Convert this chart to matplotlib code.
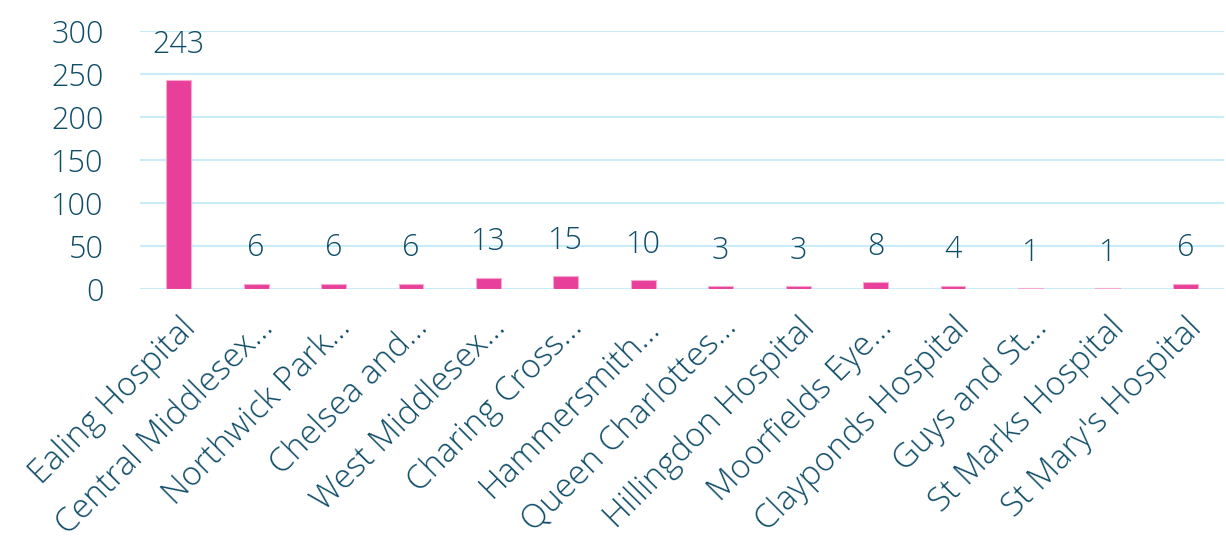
import matplotlib
matplotlib.use("Agg")
import matplotlib.pyplot as plt

categories = ["Ealing Hospital", "Central Middlesex…", "Northwick Park…", "Chelsea and…",
              "West Middlesex…", "Charing Cross…", "Hammersmith…", "Queen Charlottes…",
              "Hillingdon Hospital", "Moorfields Eye…", "Clayponds Hospital", "Guys and St…",
              "St Marks Hospital", "St Mary's Hospital"]
values = [243, 6, 6, 6, 13, 15, 10, 3, 3, 8, 4, 1, 1, 6]
yticks = [0, 50, 100, 150, 200, 250, 300]

text_color = "#0f4c68"
bar_color = "#e8409a"
grid_color = "#c8ecf8"

plt.rcParams['font.family'] = ['Open Sans', 'DejaVu Sans']

fig = plt.figure(figsize=(12.26, 5.57), dpi=100)
ax = fig.add_axes([140/1226, 1 - 289/557, (1224-140)/1226, (289-31)/557])

x = list(range(len(categories)))
ax.bar(x, values, width=0.32, color=bar_color, edgecolor="#f5a9cf", linewidth=0.8, zorder=3)
for xi, v in zip(x, values):
    ax.annotate(str(v), (xi, v), xytext=(0, 14), textcoords="offset points",
                ha="center", va="bottom", fontsize=22, color=text_color,
                fontweight="light", zorder=4)

ax.set_xlim(-0.5, len(categories) - 0.5)
ax.set_ylim(0, 300)
ax.set_yticks(yticks)
ax.set_yticklabels([str(t) for t in yticks], fontsize=22, color=text_color, fontweight="light")
ax.yaxis.grid(True, color=grid_color, linewidth=1.5, zorder=0)
ax.set_axisbelow(True)
ax.set_xticks(x)
ax.set_xticklabels(categories, rotation=45, ha="right", rotation_mode="anchor",
                   fontsize=24, color=text_color, fontweight="light")
ax.tick_params(axis="both", length=0)
ax.tick_params(axis="y", pad=26)
ax.tick_params(axis="x", pad=16)
for s in ax.spines.values():
    s.set_visible(False)

fig.savefig("out.png", dpi=100)
